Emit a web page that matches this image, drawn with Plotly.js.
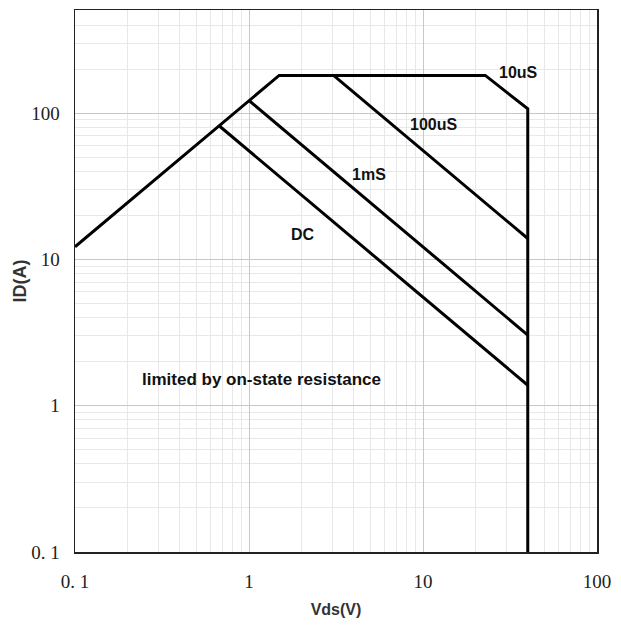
<!DOCTYPE html>
<html>
<head>
<meta charset="utf-8">
<script src="https://cdn.plot.ly/plotly-3.0.1.min.js"></script>
<style>html,body{margin:0;padding:0;background:#fff;}#chart{width:621px;height:626px;}</style>
</head>
<body>
<div id="chart"></div>
<script>
// Safe operating area envelope (limited by on-state resistance, current, 10uS pulse, Vmax)
const envelopeV = [0.1, 1.49, 22.8, 40, 40];
const envelopeI = [12.2, 181, 181, 107, 0.1];
// pulse / DC limit lines
const us100V = [3.06, 40];
const us100I = [181, 13.9];
const ms1V = [1.0, 40];
const ms1I = [122, 3.04];
const dcV = [0.673, 40];
const dcI = [82, 1.38];

const majorTicks = [0.1, 1, 10, 100];
const majorTickText = ['0. 1', '1', '10', '100'];
const yMajorTicks = [0.1, 1, 10, 100];
const yMajorTickText = ['0. 1', '1', '10', '100'];

const labels = ['10uS', '100uS', '1mS', 'DC', 'limited by on-state resistance'];
const labelX = [35.2, 11.45, 4.91, 2.05, 1.174];
const labelY = [191, 84.1, 37.8, 14.7, 1.5];
const labelSizes = [16, 16, 16, 16, 17];

function minorVals(lo, hi) {
  const out = [];
  for (let d = lo; d < hi; d++) {
    for (let k = 2; k <= 9; k++) out.push(k * Math.pow(10, d));
  }
  return out;
}

const lineStyle = {color: '#000', width: 3};
const traces = [
  {x: envelopeV, y: envelopeI, mode: 'lines', line: lineStyle, hoverinfo: 'skip'},
  {x: us100V, y: us100I, mode: 'lines', line: lineStyle, hoverinfo: 'skip'},
  {x: ms1V, y: ms1I, mode: 'lines', line: lineStyle, hoverinfo: 'skip'},
  {x: dcV, y: dcI, mode: 'lines', line: lineStyle, hoverinfo: 'skip'}
];

const annotations = labels.map((t, i) => ({
  text: '<b>' + t + '</b>', x: Math.log10(labelX[i]), y: Math.log10(labelY[i]),
  xref: 'x', yref: 'y', showarrow: false,
  font: {family: 'Liberation Sans, Arial, sans-serif', size: labelSizes[i], color: '#111'}
}));

const tickFont = {family: 'Liberation Serif, DejaVu Serif, serif', size: 19, color: '#222'};
const layout = {
  width: 621, height: 626,
  margin: {l: 75, r: 24, t: 10, b: 74},
  paper_bgcolor: '#fff', plot_bgcolor: '#fff',
  showlegend: false,
  xaxis: {
    type: 'log', range: [-1, 2],
    tickmode: 'array', tickvals: majorTicks, ticktext: majorTickText,
    tickfont: tickFont, ticks: '', ticklabelstandoff: 12,
    showgrid: true, gridcolor: '#c8c8c8', gridwidth: 1,
    minor: {tickmode: 'array', tickvals: minorVals(-1, 2), showgrid: true, gridcolor: '#e8e8e8', gridwidth: 1, ticks: ''},
    showline: true, linecolor: '#222', linewidth: 1.5, mirror: true, zeroline: false,
    title: {text: '<b>Vds(V)</b>', font: {family: 'Liberation Sans, Arial, sans-serif', size: 16, color: '#333'}, standoff: 12}
  },
  yaxis: {
    type: 'log', range: [-1, 2.705],
    tickmode: 'array', tickvals: yMajorTicks, ticktext: yMajorTickText,
    tickfont: tickFont, ticks: '', ticklabelstandoff: 10,
    showgrid: true, gridcolor: '#c8c8c8', gridwidth: 1,
    minor: {tickmode: 'array', tickvals: minorVals(-1, 3), showgrid: true, gridcolor: '#e8e8e8', gridwidth: 1, ticks: ''},
    showline: true, linecolor: '#222', linewidth: 1.5, mirror: true, zeroline: false,
    title: {text: '<b>ID(A)</b>', font: {family: 'Liberation Sans, Arial, sans-serif', size: 18, color: '#333'}, standoff: 0}
  },
  annotations: annotations
};

Plotly.newPlot('chart', traces, layout, {displayModeBar: false, staticPlot: true});
</script>
</body>
</html>
